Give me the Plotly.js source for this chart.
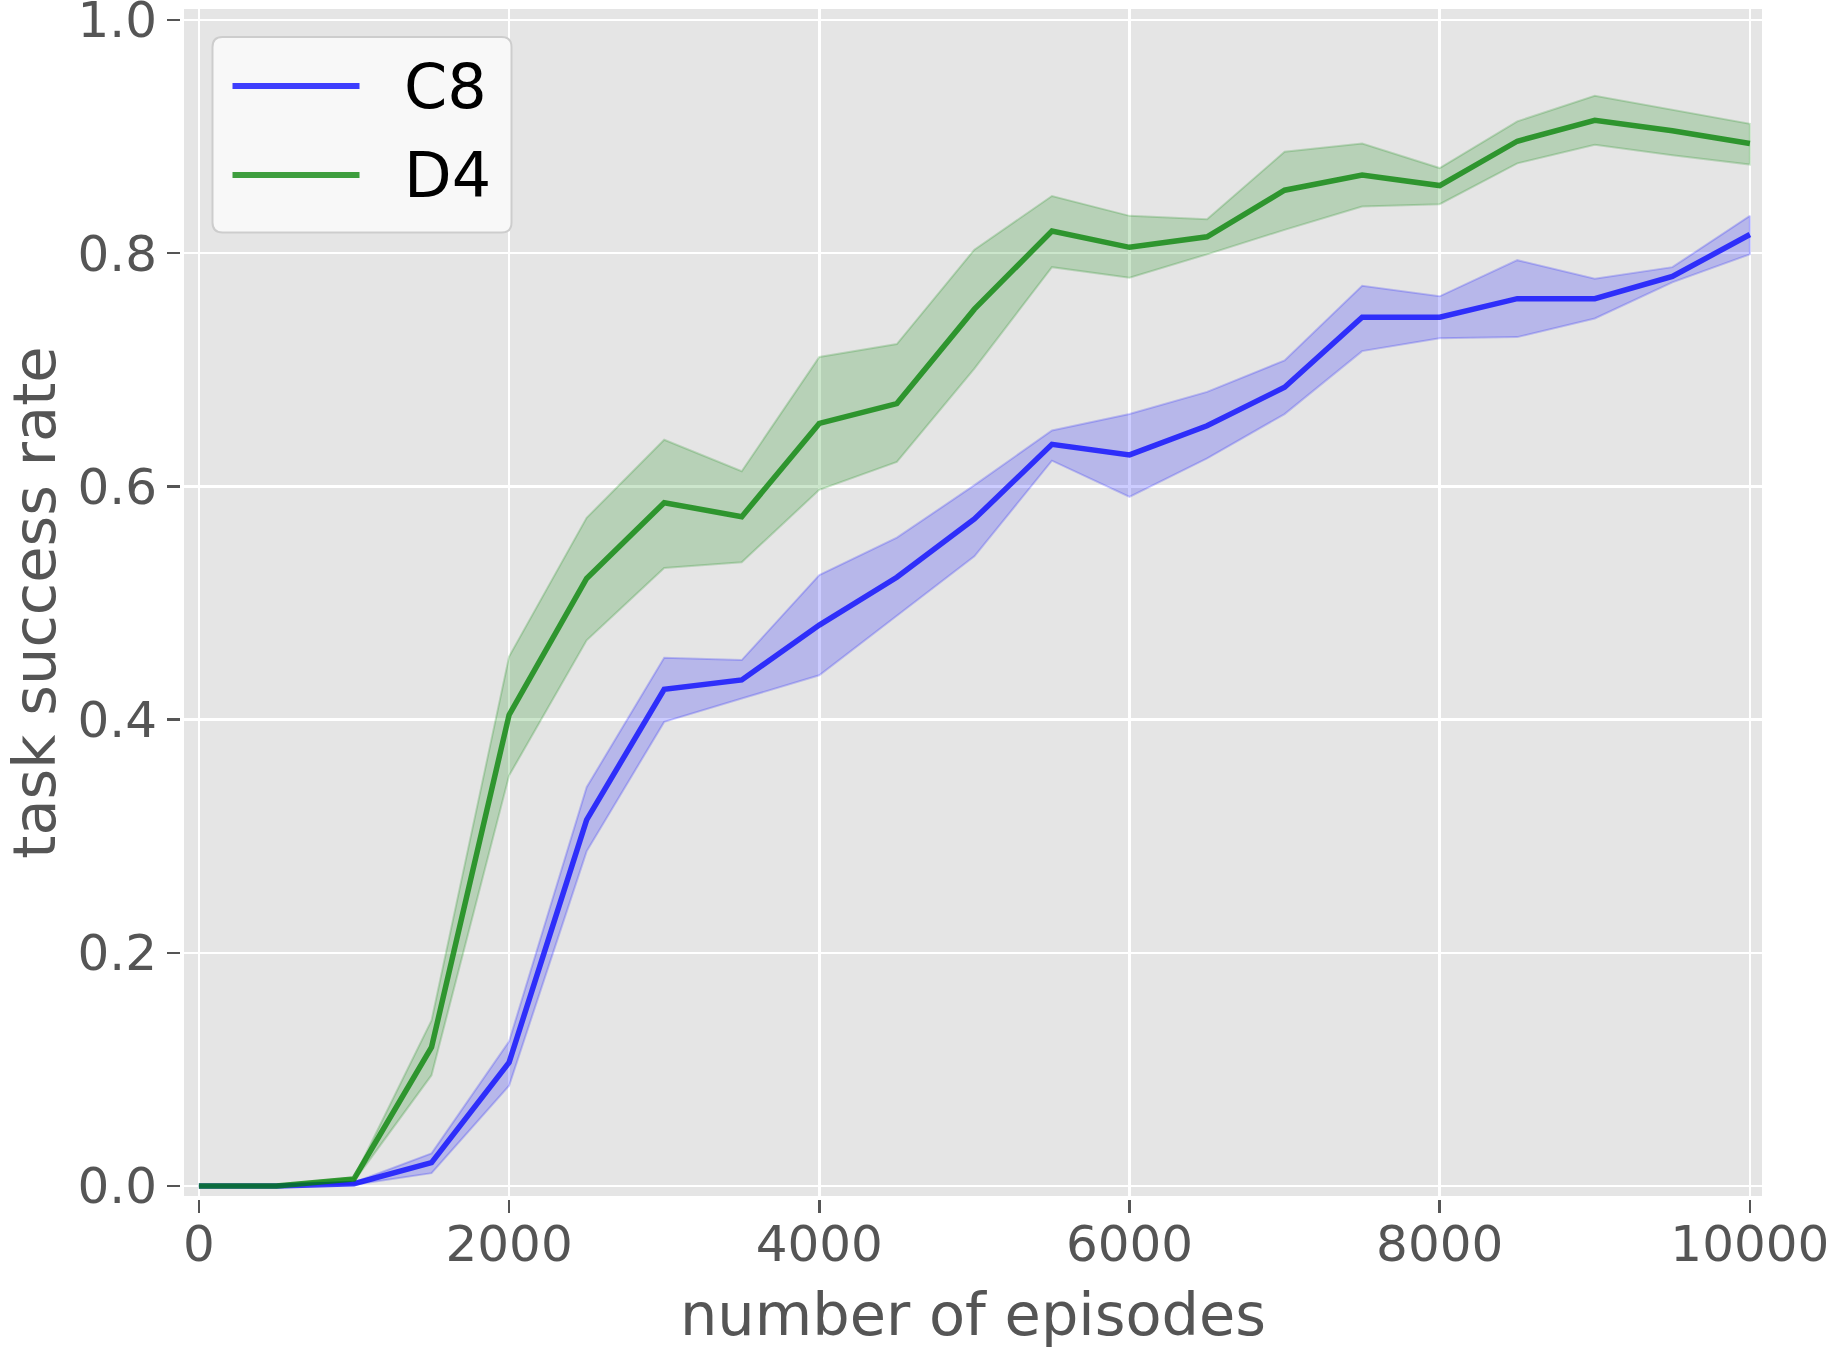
<!DOCTYPE html>
<html>
<head>
<meta charset="utf-8">
<script src="https://cdn.plot.ly/plotly-3.0.1.min.js"></script>
<style>
  html, body { margin: 0; padding: 0; background: #ffffff; }
  #chart { width: 1829px; height: 1349px; }
</style>
</head>
<body>
<div id="chart"></div>
<script>
// ---- data ----
const episodes = [0, 500, 1000, 1500, 2000, 2500, 3000, 3500, 4000, 4500, 5000,
                  5500, 6000, 6500, 7000, 7500, 8000, 8500, 9000, 9500, 10000];

const c8Mean  = [0, 0, 0.002, 0.020, 0.106, 0.314, 0.426, 0.434, 0.481, 0.522, 0.572,
                 0.636, 0.627, 0.652, 0.685, 0.745, 0.745, 0.761, 0.761, 0.780, 0.816];
const c8Upper = [0, 0, 0.003, 0.028, 0.124, 0.342, 0.453, 0.451, 0.524, 0.556, 0.601,
                 0.648, 0.662, 0.681, 0.708, 0.772, 0.763, 0.794, 0.778, 0.788, 0.832];
const c8Lower = [0, 0, 0.001, 0.011, 0.086, 0.287, 0.398, 0.418, 0.438, 0.489, 0.540,
                 0.622, 0.591, 0.624, 0.662, 0.716, 0.727, 0.728, 0.744, 0.775, 0.799];

const d4Mean  = [0, 0, 0.006, 0.119, 0.404, 0.521, 0.586, 0.574, 0.654, 0.671, 0.752,
                 0.819, 0.805, 0.814, 0.854, 0.867, 0.858, 0.896, 0.914, 0.905, 0.894];
const d4Upper = [0, 0.001, 0.007, 0.142, 0.454, 0.573, 0.640, 0.613, 0.711, 0.722, 0.803,
                 0.849, 0.832, 0.829, 0.887, 0.894, 0.873, 0.913, 0.935, 0.923, 0.911];
const d4Lower = [0, 0, 0.004, 0.095, 0.352, 0.468, 0.530, 0.535, 0.597, 0.621, 0.701,
                 0.788, 0.779, 0.799, 0.820, 0.840, 0.842, 0.877, 0.893, 0.884, 0.876];

const seriesNames = ['C8', 'D4'];
const xTickVals = [0, 2000, 4000, 6000, 8000, 10000];
const xTickText = ['0', '2000', '4000', '6000', '8000', '10000'];
const yTickVals = [0, 0.2, 0.4, 0.6, 0.8, 1.0];
const yTickText = ['0.0', '0.2', '0.4', '0.6', '0.8', '1.0'];
const xTitle = 'number of episodes';
const yTitle = 'task success rate';

// ---- styles ----
const FONT = 'DejaVu Sans, sans-serif';
const blueLine = 'rgba(0,0,255,0.75)';
const blueFill = 'rgba(0,0,255,0.2)';
const greenLine = 'rgba(0,128,0,0.75)';
const greenFill = 'rgba(0,128,0,0.2)';

function band(x, upper, lower, fill) {
  return {
    x: x.concat(x.slice().reverse()),
    y: upper.concat(lower.slice().reverse()),
    type: 'scatter', mode: 'lines', fill: 'toself',
    fillcolor: fill, line: { color: fill, width: 2 },
    hoverinfo: 'skip', showlegend: false
  };
}
function meanLine(x, y, color, name) {
  return {
    x: x, y: y, type: 'scatter', mode: 'lines', name: name,
    line: { color: color, width: 5.5 }, showlegend: false
  };
}

const traces = [
  band(episodes, c8Upper, c8Lower, blueFill),
  band(episodes, d4Upper, d4Lower, greenFill),
  meanLine(episodes, c8Mean, blueLine, seriesNames[0]),
  meanLine(episodes, d4Mean, greenLine, seriesNames[1])
];

// ---- plot-area geometry (pixels) ----
const L = 184, R = 1762, T = 9, B = 1196;
const W = 1829, H = 1349;
const px = v => (v - L) / (R - L);
const py = v => (B - v) / (B - T);

// custom legend box (rounded)
const bx0 = px(212.5), bx1 = px(511.5), by1 = py(37), by0 = py(232.5);
const rx = 10 / (R - L), ry = 10 / (B - T);
const boxPath = `M ${bx0 + rx},${by1} L ${bx1 - rx},${by1} Q ${bx1},${by1} ${bx1},${by1 - ry} ` +
  `L ${bx1},${by0 + ry} Q ${bx1},${by0} ${bx1 - rx},${by0} L ${bx0 + rx},${by0} ` +
  `Q ${bx0},${by0} ${bx0},${by0 + ry} L ${bx0},${by1 - ry} Q ${bx0},${by1} ${bx0 + rx},${by1} Z`;

const legendRows = [
  { name: seriesNames[0], color: blueLine, y: 86 },
  { name: seriesNames[1], color: greenLine, y: 175 }
];

const shapes = [{
  type: 'path', xref: 'paper', yref: 'paper', path: boxPath,
  fillcolor: '#f8f8f8', line: { color: 'rgb(205,205,205)', width: 2 }, layer: 'above'
}];
const annotations = [];
legendRows.forEach(r => {
  shapes.push({
    type: 'line', xref: 'paper', yref: 'paper',
    x0: px(232.5), x1: px(359.5), y0: py(r.y), y1: py(r.y),
    line: { color: r.color, width: 6 }, layer: 'above'
  });
  annotations.push({
    xref: 'paper', yref: 'paper', x: px(402), y: py(r.y),
    xanchor: 'left', yanchor: 'middle', showarrow: false,
    text: r.name, font: { family: FONT, size: 62, color: '#000000' }
  });
});

const layout = {
  width: W, height: H,
  margin: { l: L, r: W - R, t: T, b: H - B, pad: 0 },
  paper_bgcolor: '#ffffff',
  plot_bgcolor: '#e5e5e5',
  showlegend: false,
  font: { family: FONT, color: '#555555' },
  xaxis: {
    range: [-96, 10078],
    tickvals: xTickVals, ticktext: xTickText,
    ticks: 'outside', ticklen: 13, tickwidth: 2.5, tickcolor: '#555555',
    showline: true, linecolor: '#ffffff', linewidth: 4,
    showgrid: true, gridcolor: '#ffffff', gridwidth: 2.5,
    zeroline: false,
    ticklabeloverflow: 'allow',
    ticklabelstandoff: -12,
    tickfont: { family: FONT, size: 50, color: '#555555' },
    title: { text: xTitle, font: { family: FONT, size: 59, color: '#555555' } },
    automargin: false, fixedrange: true
  },
  yaxis: {
    range: [-0.0086, 1.0094],
    tickvals: yTickVals, ticktext: yTickText,
    ticks: 'outside', ticklen: 13, tickwidth: 2.5, tickcolor: '#555555',
    showline: true, linecolor: '#ffffff', linewidth: 4,
    showgrid: true, gridcolor: '#ffffff', gridwidth: 2.5,
    zeroline: false,
    ticklabeloverflow: 'allow',
    tickfont: { family: FONT, size: 50, color: '#555555' },
    title: { text: yTitle, font: { family: FONT, size: 59, color: '#555555' } },
    automargin: false, fixedrange: true
  },
  shapes: shapes,
  annotations: annotations
};

Plotly.newPlot('chart', traces, layout, { displayModeBar: false, staticPlot: true });
</script>
</body>
</html>
